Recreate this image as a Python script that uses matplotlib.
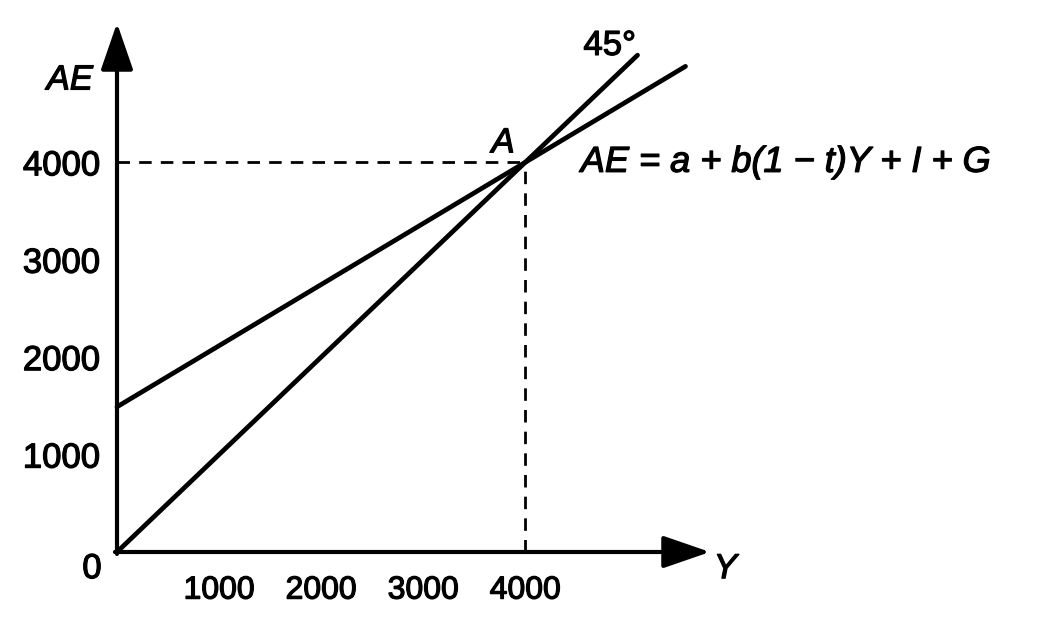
"""Keynesian cross: aggregate expenditure line against the 45-degree line."""

import matplotlib

matplotlib.use("Agg")
import matplotlib.pyplot as plt
import matplotlib.patheffects as pe

plt.rcParams["font.family"] = ["Liberation Sans", "DejaVu Sans"]

# values
tick_values = [1000, 2000, 3000, 4000]
tick_labels = ["1000", "2000", "3000", "4000"]
line45_y = [0, 5100]
line45_ae = [0, 5100]
ae_y = [0, 5570]
ae_ae = [1490, 4985]
equilibrium = (4000, 4000)
x_max = 5810
y_max = 5430

W, H = 1037, 626
fig = plt.figure(figsize=(W / 100, H / 100), dpi=100)
ax = fig.add_axes([117 / W, (H - 552) / H, (710 - 117) / W, (552 - 23) / H])
ax.set_xlim(0, x_max)
ax.set_ylim(0, y_max)
for s in ax.spines.values():
    s.set_visible(False)

# axes drawn as arrows
arrow = dict(arrowstyle="-|>,head_length=2.9,head_width=1.0", lw=3, color="black",
             shrinkA=0, shrinkB=0, mutation_scale=10)
ax.annotate("", xy=(x_max, 0), xytext=(-20, 0), arrowprops=arrow, annotation_clip=False)
ax.annotate("", xy=(0, y_max), xytext=(0, -20), arrowprops=arrow, annotation_clip=False)

ax.plot(line45_y, line45_ae, color="black", lw=3.4, solid_capstyle="round", clip_on=False)
ax.plot(ae_y, ae_ae, color="black", lw=3.4, solid_capstyle="round", clip_on=False)

ex, ey = equilibrium
dash = dict(color="black", lw=2, dashes=(4.5, 3.3))
ax.plot([0, ex], [ey, ey], **dash)
ax.plot([ex, ex], [0, ey], **dash)

heavy = [pe.withStroke(linewidth=0.9, foreground="black")]

ax.set_xticks(tick_values, tick_labels)
ax.set_yticks(tick_values, tick_labels)
ax.tick_params(axis="x", length=0, labelsize=23, pad=17)
ax.tick_params(axis="y", length=0, labelsize=25, pad=12)
for lab in ax.get_xticklabels() + ax.get_yticklabels():
    lab.set_path_effects(heavy)

txt = dict(fontsize=25, color="black", path_effects=heavy)
ax.annotate("0", xy=(0, 0), xytext=(-18, -12), textcoords="offset points",
            ha="center", va="center", **txt)
ax.annotate("AE", xy=(0, y_max), xytext=(-34, -41), textcoords="offset points",
            ha="center", va="center", style="italic", **txt)
ax.annotate("Y", xy=(x_max, 0), xytext=(11, -12), textcoords="offset points",
            ha="center", va="center", style="italic", **txt)
ax.annotate("A", xy=(ex, ey), xytext=(-16, 14), textcoords="offset points",
            ha="center", va="center", style="italic", **txt)
ax.annotate("45°", xy=(line45_y[1], line45_ae[1]), xytext=(-20, 7), textcoords="offset points",
            ha="center", va="center", **txt)
ax.annotate("AE = a + b(1 − t)Y + I + G", xy=(ex, ey), xytext=(40, 0), textcoords="offset points",
            ha="left", va="center", style="italic", fontsize=26, color="black",
            path_effects=heavy)

fig.savefig("out.png", dpi=100)
